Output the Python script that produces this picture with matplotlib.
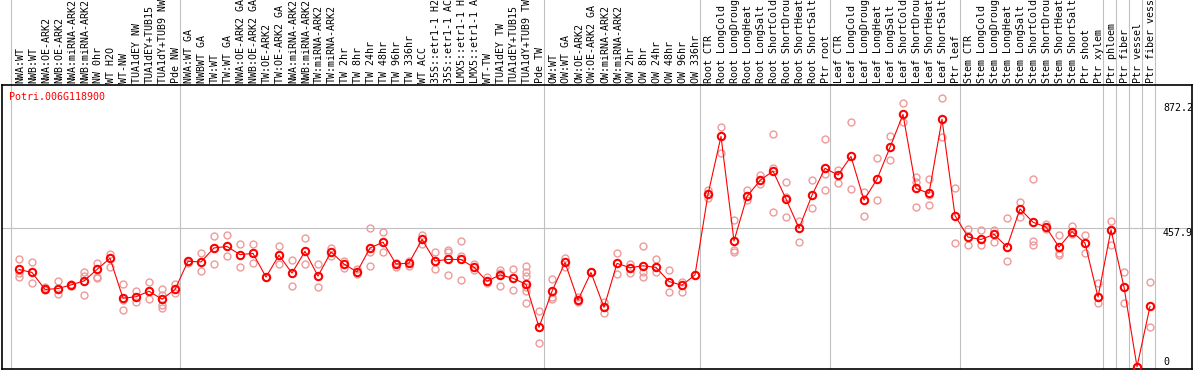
import numpy as np
import matplotlib.pyplot as plt
from matplotlib.transforms import blended_transform_factory

# sample labels (as shown, truncated)
labels = [
    'NWA:WT', 'NWB:WT', 'NWA:OE-ARK2', 'NWB:OE-ARK2', 'NWA:miRNA-ARK2', 'NWB:miRNA-ARK2',
    'NW 0hr', 'WT H2O', 'WT-NW', 'TUA1dEY NW', 'TUA1dEY+TUB15', 'TUA1dY+TUB9 NW', 'Pde NW',
    'NWA:WT GA', 'NWBWT GA', 'TW:WT', 'TW:WT GA', 'NWA:OE-ARK2 GA', 'NWB:OE-ARK2 GA',
    'TW:OE-ARK2', 'TW:OE-ARK2 GA', 'NWA:miRNA-ARK2', 'NWB:miRNA-ARK2', 'TW:miRNA-ARK2',
    'TW:miRNA-ARK2', 'TW 2hr', 'TW 8hr', 'TW 24hr', 'TW 48hr', 'TW 96hr', 'TW 336hr', 'WT ACC',
    '35S::etr1-1 H2', '35S::etr1-1 AC', 'LMX5::etr1-1 H', 'LMX5::etr1-1 A', 'WT-TW',
    'TUA1dEY TW', 'TUA1dEY+TUB15', 'TUA1dY+TUB9 TW', 'Pde TW',
    'OW:WT', 'OW:WT GA', 'OW:OE-ARK2', 'OW:OE-ARK2 GA', 'OW:miRNA-ARK2', 'OW:miRNA-ARK2',
    'OW 2hr', 'OW 8hr', 'OW 24hr', 'OW 48hr', 'OW 96hr', 'OW 336hr',
    'Root CTR', 'Root LongCold', 'Root LongDroug', 'Root LongHeat', 'Root LongSalt',
    'Root ShortCold', 'Root ShortDrou', 'Root ShortHeat', 'Root ShortSalt', 'Ptr root',
    'Leaf CTR', 'Leaf LongCold', 'Leaf LongDroug', 'Leaf LongHeat', 'Leaf LongSalt',
    'Leaf ShortCold', 'Leaf ShortDrou', 'Leaf ShortHeat', 'Leaf ShortSalt', 'Ptr leaf',
    'Stem CTR', 'Stem LongCold', 'Stem LongDroug', 'Stem LongHeat', 'Stem LongSalt',
    'Stem ShortCold', 'Stem ShortDrou', 'Stem ShortHeat', 'Stem ShortSalt', 'Ptr shoot',
    'Ptr xylem', 'Ptr phloem', 'Ptr fiber', 'Ptr vessel', 'Ptr fiber vess',
]

# first index of each group (group separators)
group_starts = [0, 13, 41, 53, 63, 73, 84, 85, 86, 87, 88]

means = [
    322, 312, 256, 259, 271, 284, 322, 359, 227, 232, 250, 224, 256,
    349, 347, 393, 398, 371, 375, 297, 369, 310, 382, 300, 380, 340, 314, 393, 412,
    340, 343, 421, 350, 355, 355, 329, 283, 304, 293, 273, 131,
    250, 345, 221, 312, 197, 342, 328, 334, 329, 282, 270, 304,
    570, 761, 416, 563, 616, 647, 555, 458, 567, 656,
    634, 695, 551, 620, 725, 834, 590, 573, 818, 500,
    429, 421, 438, 396, 522, 478, 462, 396, 447, 409, 231,
    453, 264, 1, 200,
]

reps = [
    [355, 311, 298], [345, 276], [263, 254], [284, 240], [274, 267],
    [315, 300, 238], [342, 298, 293], [373, 329], [273, 221, 188], [251, 213],
    [279, 223], [256, 238, 205, 194], [273, 245],
    [349, 342], [375, 316], [432, 340], [436, 366], [406, 330], [406, 342],
    [297, 297], [400, 340], [352, 266], [425, 340], [339, 263], [394, 368],
    [351, 328], [323, 306], [458, 379, 333], [445, 379],
    [342, 331], [334, 350], [436, 406], [379, 322], [386, 379, 303],
    [416, 366, 286], [340, 320], [298, 276], [320, 311, 267], [322, 254],
    [333, 315, 301, 265, 251, 210], [186, 78],
    [289, 230, 223], [361, 331], [230, 216], [312, 312], [213, 179],
    [375, 306], [339, 309], [398, 315, 297], [357, 315], [319, 246],
    [282, 249], [304, 304],
    [584, 557], [791, 705], [485, 386, 381], [584, 551], [634, 603],
    [768, 656, 511], [610, 562, 494], [482, 414], [617, 524], [752, 636, 584],
    [650, 609], [810, 588], [579, 498], [689, 551], [763, 683],
    [873, 810], [628, 612, 529], [620, 568, 535], [887, 760], [590, 410],
    [454, 403], [452, 403], [452, 412], [491, 349], [544, 494],
    [620, 416, 403], [472, 454], [435, 375, 370], [465, 438], [435, 375],
    [276, 210],
    [482, 403], [312, 210], [1, 1], [279, 131],
]

gene = 'Potri.006G118900'
ytick_vals = [872.2, 457.9, 0]
ytick_text = ['872.2', '457.9', '0']

plt.rcParams['font.family'] = ['DejaVu Sans Mono', 'DejaVu Sans']

fig = plt.figure(figsize=(11.94, 3.70), dpi=100)
W, H = 1194., 370.
ax = fig.add_axes([2 / W, 1 / H, 1190 / W, 284 / H])

x = np.arange(len(labels))
# pixel mapping: x_px = 19 + 13*i ; y_px = 367 - 0.3029*v
ax.set_xlim((2 - 19) / 13., (1192 - 19) / 13.)
ax.set_ylim(-2 / 0.3029, (367 - 85) / 0.3029)

grey = '#c0c0c0'
for g in group_starts:
    ax.axvline(g - 0.62, ymin=0, ymax=1 + 86 / 284., color=grey, lw=0.8,
               clip_on=False, zorder=1)
ax.axhline(457.9, color=grey, lw=0.8, zorder=1)

rx = [i for i, r in enumerate(reps) for _ in r]
ry = [v for r in reps for v in r]
ax.plot(rx, ry, 'o', ls='none', ms=5, mfc='none', mec='#ee9a9a', mew=1.0, zorder=2)
ax.plot(x, means, '-', color='red', lw=0.8, zorder=3)
ax.plot(x, means, 'o', ls='none', ms=5.3, mfc='none', mec='red', mew=1.5, zorder=4)

ax.set_xticks([])
ax.set_yticks([])
for s in ax.spines.values():
    s.set_linewidth(1.2)
    s.set_color('black')

trans = blended_transform_factory(ax.transData, ax.transAxes)
for i, lab in enumerate(labels):
    ax.text(i + 0.08, 1 + 2 / 284., lab, transform=trans, rotation=90,
            ha='center', va='bottom', fontsize=7.2, clip_on=False)

ax.text((9 - 2) / 1190., 1 - 7 / 284., gene, transform=ax.transAxes,
        color='red', fontsize=7.2, ha='left', va='top')

xl = (1163 - 19) / 13.
for v, t in zip(ytick_vals, ytick_text):
    ax.text(xl, v, t, fontsize=7.2, ha='left', va='bottom' if v == 0 else 'top')

plt.savefig('out.png', dpi=100)
